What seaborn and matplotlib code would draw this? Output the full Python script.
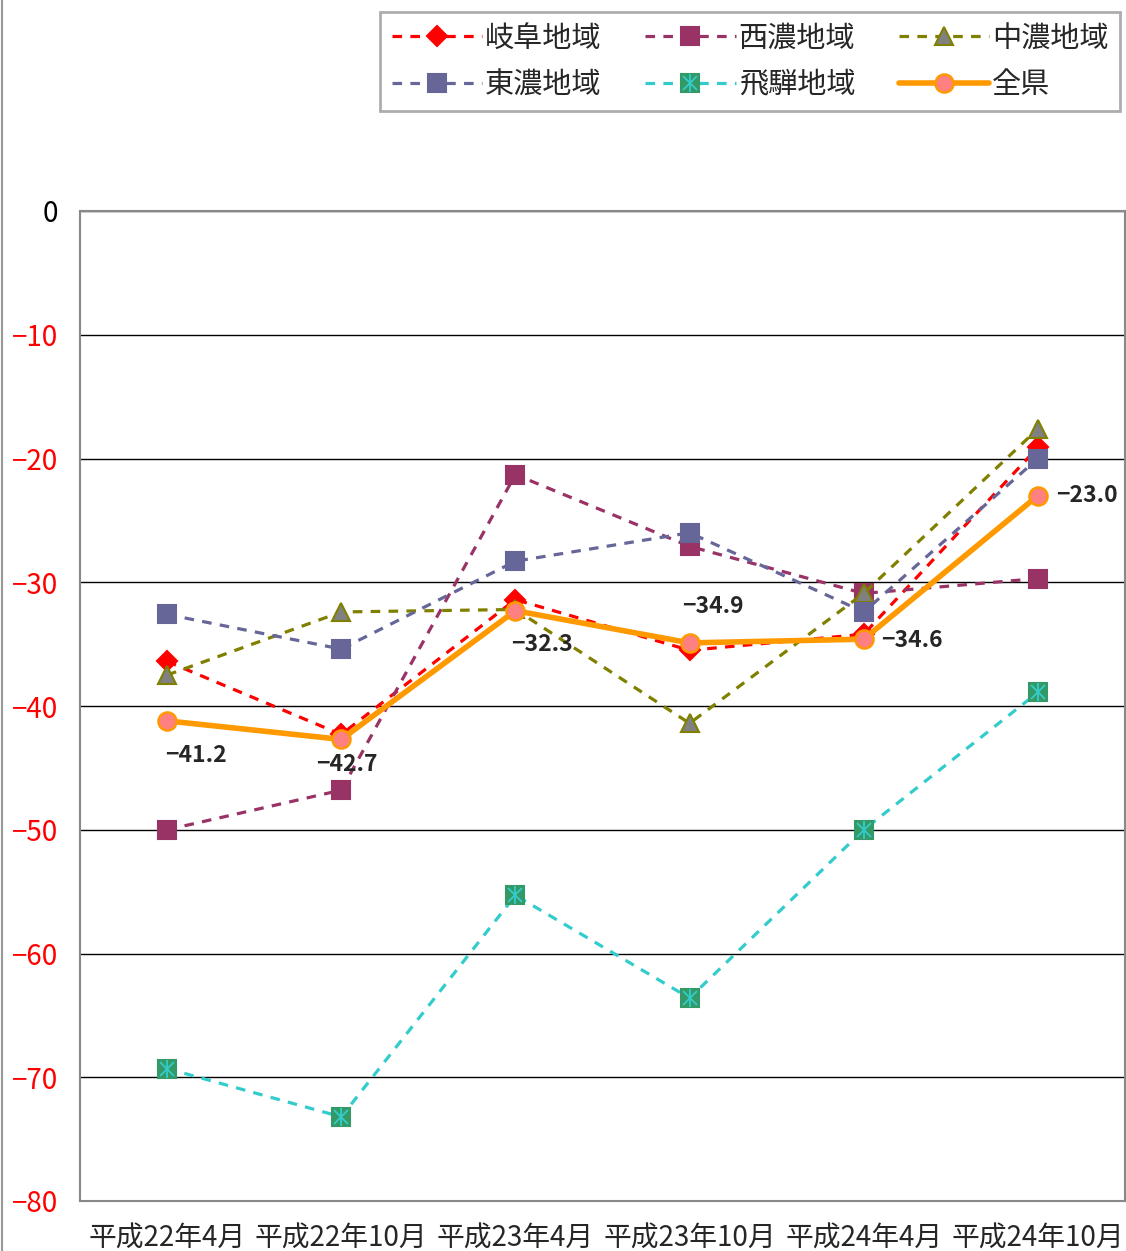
import matplotlib
matplotlib.use("Agg")
import matplotlib.pyplot as plt
import seaborn as sns
from matplotlib.lines import Line2D
from matplotlib.legend_handler import HandlerTuple

# periods on the x axis
periods = ["平成22年4月", "平成22年10月", "平成23年4月",
           "平成23年10月", "平成24年4月", "平成24年10月"]

# DI values per region
gifu = [-36.4, -42.3, -31.4, -35.5, -34.2, -19.1]
seino = [-50.0, -46.8, -21.3, -27.1, -30.9, -29.7]
chuno = [-37.5, -32.4, -32.2, -41.4, -30.9, -17.6]
tono = [-32.6, -35.4, -28.3, -26.0, -32.4, -20.0]
hida = [-69.3, -73.2, -55.3, -63.6, -50.0, -38.9]
zenken = [-41.2, -42.7, -32.3, -34.9, -34.6, -23.0]

region_names = ["岐阜地域", "西濃地域", "中濃地域", "東濃地域", "飛騨地域", "全県"]

sns.set_style("white")
plt.rcParams['font.family'] = ['Noto Sans CJK JP', 'DejaVu Sans']

fig = plt.figure(figsize=(11.26, 12.51), dpi=100)
ax = fig.add_axes([80 / 1126, 50 / 1251, 1045 / 1126, 990 / 1251])

dash = (3.0, 2.6)
lw = 2.3

# one entry per series: values, line colour, marker, marker face, marker edge, marker size
styles = [
    (gifu, "#FF0000", "D", "#FF0000", "#FF0000", 10),
    (seino, "#993366", "s", "#993366", "#993366", 13),
    (chuno, "#808000", "^", "#808080", "#808000", 13),
    (tono, "#666699", "s", "#666699", "#666699", 13),
    (hida, "#33CCCC", "s", "#339966", "#339966", 13),
]

handles = []
for (vals, col, mk, mfc, mec, ms), name in zip(styles, region_names[:5]):
    sns.lineplot(x=periods, y=vals, ax=ax, color=col, linewidth=lw,
                 linestyle=(0, dash), marker=mk, markersize=ms,
                 markerfacecolor=mfc, markeredgecolor=mec, markeredgewidth=1.5,
                 sort=False, zorder=3)
    h = Line2D([], [], color=col, linewidth=lw, linestyle=(0, dash), marker=mk,
               markersize=ms, markerfacecolor=mfc, markeredgecolor=mec,
               markeredgewidth=1.5)
    handles.append(h)

# asterisk overlay on the 飛騨 markers
ax.plot(periods, hida, linestyle="none", marker="x", markersize=10,
        markeredgecolor="#33CCCC", markeredgewidth=1.3, zorder=4)
ax.plot(periods, hida, linestyle="none", marker="|", markersize=13,
        markeredgecolor="#33CCCC", markeredgewidth=1.3, zorder=4)
hida_x = Line2D([], [], linestyle="none", marker="x", markersize=10,
                markeredgecolor="#33CCCC", markeredgewidth=1.3)
hida_v = Line2D([], [], linestyle="none", marker="|", markersize=13,
                markeredgecolor="#33CCCC", markeredgewidth=1.3)
handles[4] = (handles[4], hida_x, hida_v)

# whole prefecture
sns.lineplot(x=periods, y=zenken, ax=ax, color="#FF9900", linewidth=4,
             marker="o", markersize=13, markerfacecolor="#FF8080",
             markeredgecolor="#FF9900", markeredgewidth=1.8, sort=False, zorder=5)
handles.append(Line2D([], [], color="#FF9900", linewidth=4, marker="o",
                      markersize=13, markerfacecolor="#FF8080",
                      markeredgecolor="#FF9900", markeredgewidth=1.8))

# data labels for 全県
label_offsets = [(21, -25), (4, -18), (19, -24), (17, 26), (35, -1), (35, 0)]
for p, v, off in zip(periods, zenken, label_offsets):
    ax.annotate(f"{v:.1f}".replace("-", "\u2212"), xy=(p, v), xytext=off,
                textcoords="offset points", ha="center", va="center",
                fontsize=16.5, fontweight="bold", family=['Noto Sans CJK JP', 'DejaVu Sans'],
                zorder=6)

# axes
ax.set_ylim(-80, 0)
ax.set_xlim(-0.5, 5.5)
ax.set_yticks(range(-80, 1, 10))
ax.yaxis.grid(True, color="#000000", linewidth=1)
ax.xaxis.grid(False)
ax.set_xlabel("")
ax.set_ylabel("")
for s in ax.spines.values():
    s.set_color("#888888")
    s.set_linewidth(1.5)
ax.tick_params(axis="y", length=0, pad=16, labelsize=20)
ax.tick_params(axis="x", length=0, pad=16, labelsize=20)
ax.set_yticklabels([f"{t}".replace("-", "\u2212") for t in range(-80, 1, 10)])
for lab, t in zip(ax.get_yticklabels(), range(-80, 1, 10)):
    lab.set_color("#FF0000" if t < 0 else "#000000")

# legend, filled column by column so rows read 岐阜/西濃/中濃 then 東濃/飛騨/全県
order = [0, 3, 1, 4, 2, 5]
leg = fig.legend([handles[i] for i in order], [region_names[i] for i in order],
                 loc="upper left", bbox_to_anchor=(380 / 1126, 1 - 12 / 1251),
                 bbox_transform=fig.transFigure, ncol=3, fontsize=21,
                 handlelength=3.1, handletextpad=0.1, columnspacing=1.5,
                 labelspacing=0.55, borderpad=0.4, borderaxespad=0,
                 fancybox=False, frameon=True,
                 handler_map={tuple: HandlerTuple(ndivide=1, pad=0)})
leg.get_frame().set_edgecolor("#999999")
leg.get_frame().set_linewidth(2)

# outer chart border on the left
fig.add_artist(Line2D([2 / 1126, 2 / 1126], [0, 1], color="#999999",
                      linewidth=1.5, transform=fig.transFigure))

plt.savefig("out.png", dpi=100)
